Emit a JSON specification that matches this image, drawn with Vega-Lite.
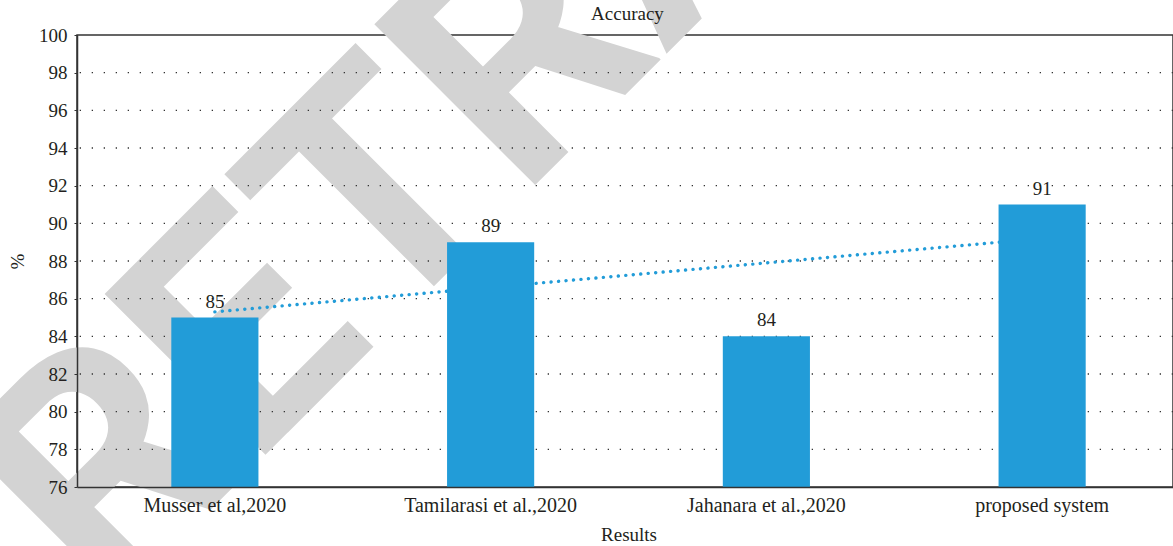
{
  "$schema": "https://vega.github.io/schema/vega-lite/v6.json",
  "autosize": {"type": "none"},
  "padding": {"left": 77, "top": 35, "right": 0, "bottom": 59},
  "width": 1096,
  "height": 452,
  "background": "white",
  "config": {
    "view": {"stroke": "#333333", "strokeWidth": 1.5},
    "axis": {"labelFont": "Liberation Serif", "titleFont": "Liberation Serif", "labelFontSize": 19, "titleFontSize": 19, "labelColor": "#231f20", "titleColor": "#231f20", "titleFontWeight": "normal", "labelOverlap": false, "domainColor": "#333333", "domainWidth": 1.5}
  },
  "datasets": {
    "results": [
      {"method": "Musser et al,2020", "accuracy": 85, "trend": 85.3},
      {"method": "Tamilarasi et al.,2020", "accuracy": 89, "trend": 86.6},
      {"method": "Jahanara et al.,2020", "accuracy": 84, "trend": 87.9},
      {"method": "proposed system", "accuracy": 91, "trend": 89.2}
    ],
    "gridlines": [{"v": 78}, {"v": 80}, {"v": 82}, {"v": 84}, {"v": 86}, {"v": 88}, {"v": 90}, {"v": 92}, {"v": 94}, {"v": 96}, {"v": 98}],
    "watermark": [{"word": "RETRACTED"}],
    "heading": [{"label": "Accuracy"}]
  },
  "layer": [
    {
      "data": {"name": "watermark"},
      "mark": {"type": "text", "font": "Roboto", "fontWeight": "bold", "fontSize": 320, "color": "#d3d3d3", "angle": -45, "align": "left", "baseline": "alphabetic", "clip": false, "dx": -486, "dy": 4},
      "encoding": {
        "x": {"datum": "Tamilarasi et al.,2020", "bandPosition": 0,
          "scale": {"domain": ["Musser et al,2020", "Tamilarasi et al.,2020", "Jahanara et al.,2020", "proposed system"], "range": [0, 1103], "paddingInner": 0.684, "paddingOuter": 0.342},
          "axis": {"title": "Results", "labelAngle": 0, "labelFontSize": 20, "ticks": false, "labelPadding": 8, "titlePadding": 10, "grid": false, "zindex": 1}},
        "y": {"datum": 87.65, "type": "quantitative",
          "scale": {"domain": [76, 100], "zero": false, "nice": false},
          "axis": {"title": "%", "values": [76, 78, 80, 82, 84, 86, 88, 90, 92, 94, 96, 98, 100], "labelOverlap": false, "tickSize": 3, "tickColor": "#333333", "labelPadding": 7, "titlePadding": 11, "grid": false, "zindex": 1}},
        "text": {"field": "word", "type": "nominal"}
      }
    },
    {
      "data": {"name": "gridlines"},
      "mark": {"type": "rule", "color": "#333333", "strokeWidth": 1.3, "strokeDash": [1.3, 10.7]},
      "encoding": {
        "y": {"field": "v", "type": "quantitative",
          "scale": {"domain": [76, 100], "zero": false, "nice": false},
          "axis": {"title": "%", "values": [76, 78, 80, 82, 84, 86, 88, 90, 92, 94, 96, 98, 100], "labelOverlap": false, "tickSize": 3, "tickColor": "#333333", "labelPadding": 7, "titlePadding": 11, "grid": false, "zindex": 1}}
      }
    },
    {
      "data": {"name": "results"},
      "mark": {"type": "line", "color": "#229cd8", "strokeWidth": 3.4, "strokeDash": [0.1, 7.4], "strokeCap": "round"},
      "encoding": {
        "x": {"field": "method", "type": "nominal", "sort": null,
          "scale": {"domain": ["Musser et al,2020", "Tamilarasi et al.,2020", "Jahanara et al.,2020", "proposed system"], "range": [0, 1103], "paddingInner": 0.684, "paddingOuter": 0.342},
          "axis": {"title": "Results", "labelAngle": 0, "labelFontSize": 20, "ticks": false, "labelPadding": 8, "titlePadding": 10, "grid": false, "zindex": 1}},
        "y": {"field": "trend", "type": "quantitative",
          "scale": {"domain": [76, 100], "zero": false, "nice": false},
          "axis": {"title": "%", "values": [76, 78, 80, 82, 84, 86, 88, 90, 92, 94, 96, 98, 100], "labelOverlap": false, "tickSize": 3, "tickColor": "#333333", "labelPadding": 7, "titlePadding": 11, "grid": false, "zindex": 1}}
      }
    },
    {
      "data": {"name": "results"},
      "mark": {"type": "bar", "color": "#229cd8", "clip": true},
      "encoding": {
        "x": {"field": "method", "type": "nominal", "sort": null,
          "scale": {"domain": ["Musser et al,2020", "Tamilarasi et al.,2020", "Jahanara et al.,2020", "proposed system"], "range": [0, 1103], "paddingInner": 0.684, "paddingOuter": 0.342},
          "axis": {"title": "Results", "labelAngle": 0, "labelFontSize": 20, "ticks": false, "labelPadding": 8, "titlePadding": 10, "grid": false, "zindex": 1}},
        "y": {"field": "accuracy", "type": "quantitative",
          "scale": {"domain": [76, 100], "zero": false, "nice": false},
          "axis": {"title": "%", "values": [76, 78, 80, 82, 84, 86, 88, 90, 92, 94, 96, 98, 100], "labelOverlap": false, "tickSize": 3, "tickColor": "#333333", "labelPadding": 7, "titlePadding": 11, "grid": false, "zindex": 1}}
      }
    },
    {
      "data": {"name": "results"},
      "mark": {"type": "text", "font": "Liberation Serif", "fontSize": 19, "color": "#231f20", "baseline": "alphabetic", "dy": -10},
      "encoding": {
        "x": {"field": "method", "type": "nominal", "sort": null,
          "scale": {"domain": ["Musser et al,2020", "Tamilarasi et al.,2020", "Jahanara et al.,2020", "proposed system"], "range": [0, 1103], "paddingInner": 0.684, "paddingOuter": 0.342},
          "axis": {"title": "Results", "labelAngle": 0, "labelFontSize": 20, "ticks": false, "labelPadding": 8, "titlePadding": 10, "grid": false, "zindex": 1}},
        "y": {"field": "accuracy", "type": "quantitative",
          "scale": {"domain": [76, 100], "zero": false, "nice": false},
          "axis": {"title": "%", "values": [76, 78, 80, 82, 84, 86, 88, 90, 92, 94, 96, 98, 100], "labelOverlap": false, "tickSize": 3, "tickColor": "#333333", "labelPadding": 7, "titlePadding": 11, "grid": false, "zindex": 1}},
        "text": {"field": "accuracy", "type": "quantitative"}
      }
    },
    {
      "data": {"name": "heading"},
      "mark": {"type": "text", "font": "Liberation Serif", "fontSize": 19, "color": "#231f20", "align": "center", "baseline": "alphabetic", "clip": false, "dy": -15},
      "encoding": {
        "x": {"datum": "Tamilarasi et al.,2020", "bandPosition": 2.07,
          "scale": {"domain": ["Musser et al,2020", "Tamilarasi et al.,2020", "Jahanara et al.,2020", "proposed system"], "range": [0, 1103], "paddingInner": 0.684, "paddingOuter": 0.342},
          "axis": {"title": "Results", "labelAngle": 0, "labelFontSize": 20, "ticks": false, "labelPadding": 8, "titlePadding": 10, "grid": false, "zindex": 1}},
        "y": {"datum": 100, "type": "quantitative",
          "scale": {"domain": [76, 100], "zero": false, "nice": false},
          "axis": {"title": "%", "values": [76, 78, 80, 82, 84, 86, 88, 90, 92, 94, 96, 98, 100], "labelOverlap": false, "tickSize": 3, "tickColor": "#333333", "labelPadding": 7, "titlePadding": 11, "grid": false, "zindex": 1}},
        "text": {"field": "label", "type": "nominal"}
      }
    }
  ]
}
